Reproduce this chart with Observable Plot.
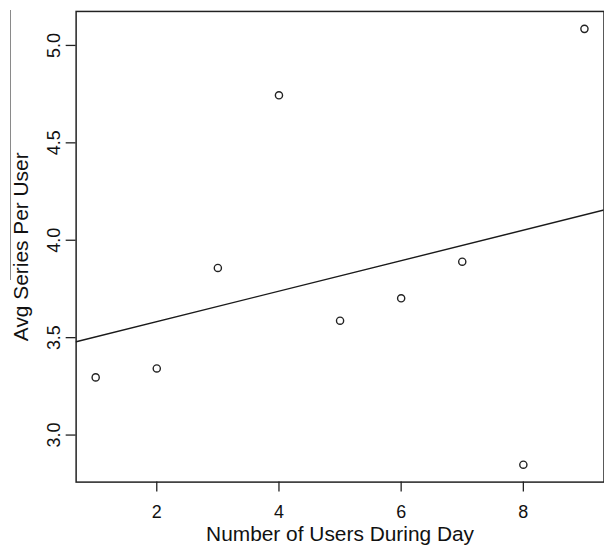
<!DOCTYPE html>
<html>
<head>
<meta charset="utf-8">
<script src="https://cdn.jsdelivr.net/npm/d3@7"></script>
<script src="https://cdn.jsdelivr.net/npm/@observablehq/plot@0.6"></script>
<style>
  html, body { margin: 0; padding: 0; background: #fff; overflow: hidden; }
  #wrap { position: relative; width: 604px; height: 549px; overflow: hidden; }
  #scanline { position: absolute; left: 10px; top: 10px; width: 0; height: 270px; border-left: 1.5px solid #8a8a8a; }
</style>
</head>
<body>
<div id="wrap"><div id="chart"></div><div id="scanline"></div></div>
<script>
const users = [1, 2, 3, 4, 5, 6, 7, 8, 9];
const avgSeries = [3.296, 3.342, 3.858, 4.744, 3.587, 3.702, 3.890, 2.848, 5.085];
const xTicks = [2, 4, 6, 8];
const yTicks = [3.0, 3.5, 4.0, 4.5, 5.0];
const xLabel = "Number of Users During Day";
const yLabel = "Avg Series Per User";

const data = users.map((u, i) => ({x: u, y: avgSeries[i]}));

// R-style 4% range extension
const ext = (arr) => { const [a, b] = d3.extent(arr); const p = (b - a) * 0.04; return [a - p, b + p]; };
const xDom = ext(users);
const yDom = ext(avgSeries);

// least-squares fit (abline)
const mx = d3.mean(users), my = d3.mean(avgSeries);
const slope = d3.sum(users, (u, i) => (u - mx) * (avgSeries[i] - my)) / d3.sum(users, u => (u - mx) ** 2);
const intercept = my - slope * mx;
const fitLine = xDom.map(x => ({x, y: intercept + slope * x}));

const font = "'Liberation Sans', Arial, Helvetica, sans-serif";

const chart = Plot.plot({
  width: 607,
  height: 549,
  marginLeft: 76,
  marginRight: 0.5,
  marginTop: 11,
  marginBottom: 65,
  style: {fontFamily: font, background: "#fff", color: "#111"},
  x: {domain: xDom},
  y: {domain: yDom},
  marks: [
    Plot.frame({stroke: "#222", strokeWidth: 1.5}),
    Plot.axisX({ticks: xTicks, tickSize: 10, tickPadding: 13, tickFormat: d3.format("d"), fontSize: 18, stroke: "#222", strokeWidth: 1.3, label: null}),
    Plot.axisY({ticks: yTicks, tickSize: 10, tickPadding: 6, tickFormat: d3.format(".1f"), tickRotate: -90, fontSize: 18, stroke: "#222", strokeWidth: 1.3, label: null}),
    Plot.line(fitLine, {x: "x", y: "y", stroke: "#1a1a1a", strokeWidth: 1.4, clip: true}),
    Plot.dot(data, {x: "x", y: "y", r: 3.6, stroke: "#222", strokeWidth: 1.4, fill: "none"}),
    Plot.text([xLabel], {frameAnchor: "bottom", dy: 52, lineAnchor: "middle", textAnchor: "middle", fontSize: 21, fill: "#111", text: d => d}),
    Plot.text([yLabel], {frameAnchor: "left", dx: -55, rotate: -90, lineAnchor: "middle", textAnchor: "middle", fontSize: 21, fill: "#111", text: d => d})
  ]
});
document.getElementById("chart").appendChild(chart);
</script>
</body>
</html>
